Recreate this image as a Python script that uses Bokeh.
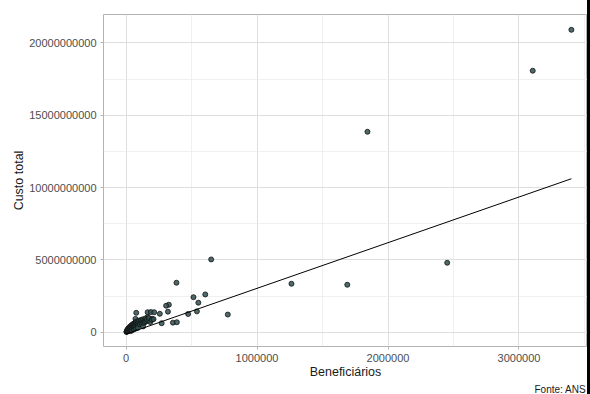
import numpy as np
from bokeh.plotting import figure
from bokeh.models import Range1d, FixedTicker, NumeralTickFormatter, Title, Div
from bokeh.layouts import row
from bokeh.embed import file_html
from bokeh.resources import INLINE

# ---- data ----
beneficiarios = [
    3400000, 3105000, 1843000, 1689000, 2452000, 1263000, 650000, 385000,
    777000, 605000, 515000, 552000, 541000, 474000, 327000, 306000, 320000,
    358000, 388000, 272000, 258000, 165000, 190000, 215000, 78000, 72000,
    163000, 200000,
    3000, 5000, 6000, 8000, 10000, 12000, 14000, 15000, 18000, 20000, 22000,
    24000, 25000, 28000, 30000, 33000, 35000, 35000, 38000, 40000, 42000,
    45000, 45000, 48000, 50000, 52000, 55000, 58000, 60000, 60000, 62000,
    65000, 68000, 70000, 72000, 75000, 75000, 78000, 80000, 85000, 88000,
    90000, 90000, 95000, 100000, 105000, 110000, 115000, 120000, 125000,
    130000, 130000, 135000, 140000, 145000, 150000, 155000, 160000, 170000,
    175000, 185000, 195000, 210000,
]
custo_total = [
    20.91e9, 18.08e9, 13.86e9, 3.28e9, 4.80e9, 3.35e9, 5.03e9, 3.42e9,
    1.22e9, 2.61e9, 2.42e9, 2.04e9, 1.44e9, 1.26e9, 1.90e9, 1.83e9, 1.42e9,
    0.66e9, 0.69e9, 0.62e9, 1.27e9, 1.38e9, 1.39e9, 1.38e9, 1.34e9, 0.92e9,
    1.04e9, 0.93e9,
    0.02e9, 0.05e9, 0.03e9, 0.12e9, 0.08e9, 0.20e9, 0.06e9, 0.10e9, 0.25e9,
    0.15e9, 0.30e9, 0.10e9, 0.18e9, 0.35e9, 0.22e9, 0.40e9, 0.28e9, 0.08e9,
    0.15e9, 0.45e9, 0.32e9, 0.50e9, 0.12e9, 0.38e9, 0.25e9, 0.55e9, 0.42e9,
    0.30e9, 0.60e9, 0.20e9, 0.48e9, 0.35e9, 0.65e9, 0.52e9, 0.40e9, 0.70e9,
    0.25e9, 0.58e9, 0.45e9, 0.62e9, 0.75e9, 0.50e9, 0.30e9, 0.68e9, 0.80e9,
    0.55e9, 0.72e9, 0.85e9, 0.60e9, 0.78e9, 0.90e9, 0.40e9, 0.65e9, 0.82e9,
    0.70e9, 0.95e9, 0.75e9, 0.88e9, 0.80e9, 0.98e9, 0.70e9, 0.85e9, 0.90e9,
]
fit_slope = 3158.0          # linear fit drawn in the reference
fit_intercept = -1.26e8

x_ticks = [0, 1000000, 2000000, 3000000]
x_minor = [500000, 1500000, 2500000, 3500000]
y_ticks = [0, 5e9, 1e10, 1.5e10, 2e10]
y_minor = [2.5e9, 7.5e9, 1.25e10, 1.75e10]

x_label = "Beneficiários"
y_label = "Custo total"
caption = "Fonte: ANS"

# ---- figure ----
p = figure(
    width=587, height=394,
    output_backend="svg", toolbar_location=None,
    x_range=Range1d(-172000, 3523000),
    y_range=Range1d(-0.99e9, 21.97e9),
    min_border_left=103, min_border_top=14, min_border_right=0,
    min_border_bottom=48,
)
p.background_fill_color = "white"
p.border_fill_color = "white"
p.outline_line_color = "#b3b3b3"
p.outline_line_width = 1

for ax, ticks, minor, lab in ((p.xaxis[0], x_ticks, x_minor, x_label),
                              (p.yaxis[0], y_ticks, y_minor, y_label)):
    ax.ticker = FixedTicker(ticks=ticks, minor_ticks=minor)
    ax.formatter = NumeralTickFormatter(format="0")
    ax.axis_line_color = None
    ax.major_tick_line_color = "#b3b3b3"
    ax.major_tick_in = 0
    ax.major_tick_out = 3
    ax.minor_tick_line_color = None
    ax.major_label_text_font = "Liberation Sans"
    ax.major_label_text_font_size = "11px"
    ax.major_label_text_color = "#4d4d4d"
    ax.major_label_standoff = 3
    ax.axis_label = lab
    ax.axis_label_text_font = "Liberation Sans"
    ax.axis_label_text_font_size = "12.5px"
    ax.axis_label_text_font_style = "normal"
    ax.axis_label_text_color = "#1a1a1a"
    ax.axis_label_standoff = 0

p.grid.grid_line_color = "#dedede"
p.grid.grid_line_width = 1
p.grid.minor_grid_line_color = "#ececec"
p.grid.minor_grid_line_width = 0.8

bx = np.array(beneficiarios, dtype=float)
by = np.array(custo_total, dtype=float)
p.scatter(bx, by, size=5, fill_color="#2f4f4f", fill_alpha=0.85,
          line_color="#111111", line_width=0.8)

lx = np.array([bx.min(), bx.max()])
p.line(lx, fit_intercept + fit_slope * lx, line_color="black", line_width=1)

cap = Title(text=caption, align="left", offset=431,
            text_font="Liberation Sans", text_font_size="10px",
            text_font_style="normal", text_color="#1a1a1a", standoff=0)
p.add_layout(cap, "below")

# black strip at the right edge of the reference picture
bar = Div(text='<div style="width:3px;height:394px;background:#000000;"></div>',
          width=3, height=394, margin=0,
          styles={"background-color": "#000000", "overflow": "hidden"})

root = row(p, bar, spacing=0)
open("out.html", "w").write(file_html(root, INLINE))
